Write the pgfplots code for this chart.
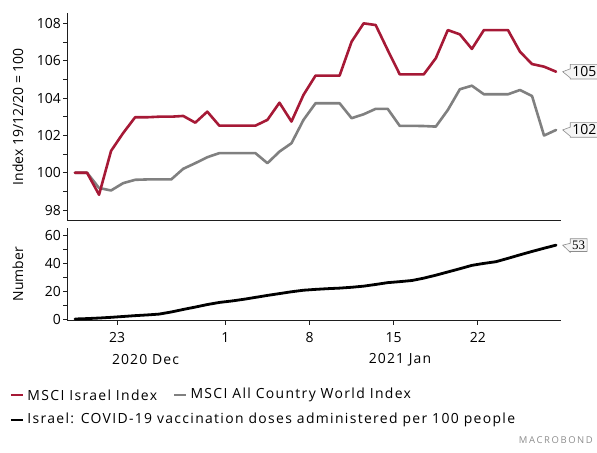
\documentclass[border=0pt]{standalone}
\usepackage{fontspec}
\setmainfont{Open Sans}
\newfontfamily\lsfont[LetterSpace=8]{Open Sans}
\newfontfamily\lgfont[LetterSpace=9.5]{Open Sans}
\newfontfamily\serifnum{Liberation Serif}
\usepackage{pgfplots}
\usepackage{pgfplotstable}
\pgfplotsset{compat=1.18}
\usetikzlibrary{shapes.callouts}

\definecolor{mbred}{RGB}{166,25,54}
\definecolor{mbgray}{RGB}{128,128,128}
\definecolor{axcol}{RGB}{30,30,30}

\pgfplotstableread{
k red gray
0 100.00 100.00
1 100.00 100.00
2 98.82 99.18
3 101.17 99.05
4 102.12 99.44
5 102.97 99.62
6 102.97 99.64
7 103.00 99.64
8 103.00 99.64
9 103.04 100.21
10 102.68 100.51
11 103.27 100.83
12 102.52 101.05
13 102.52 101.05
14 102.52 101.05
15 102.52 101.05
16 102.83 100.51
17 103.75 101.13
18 102.74 101.58
19 104.17 102.83
20 105.20 103.72
21 105.20 103.72
22 105.20 103.72
23 107.02 102.92
24 108.00 103.13
25 107.91 103.42
26 106.57 103.42
27 105.27 102.51
28 105.27 102.51
29 105.27 102.50
30 106.13 102.47
31 107.64 103.36
32 107.41 104.47
33 106.63 104.66
34 107.64 104.20
35 107.64 104.20
36 107.64 104.20
37 106.48 104.43
38 105.82 104.11
39 105.68 101.99
40 105.41 102.29
}\indextab

\pgfplotstableread{
k vac
0 0.2
1 0.5
2 0.9
3 1.4
4 2.0
5 2.6
6 3.1
7 3.7
8 5.2
9 7.0
10 8.7
11 10.5
12 12.0
13 13.0
14 14.2
15 15.6
16 17.0
17 18.3
18 19.6
19 20.7
20 21.3
21 21.8
22 22.2
23 22.8
24 23.6
25 24.8
26 26.1
27 26.8
28 27.6
29 29.3
30 31.4
31 33.7
32 36.0
33 38.4
34 39.8
35 41.0
36 43.4
37 45.9
38 48.3
39 50.6
40 52.8
}\vactab

\pgfplotsset{
  mbaxis/.style={
    scale only axis,
    anchor=south west,
    width=493.7bp,
    xmin=-0.64, xmax=40.41,
    axis x line*=bottom,
    axis y line*=left,
    axis line style={axcol, line width=1.3bp},
    tick align=outside,
    major tick length=4bp,
    minor tick length=4bp,
    every tick/.style={axcol, line width=0.8bp},
    tick label style={font=\fontsize{14}{17}\selectfont, text=black},
    yticklabel style={xshift=1bp},
    xticklabel style={yshift=-4bp},
    /pgf/number format/assume math mode=true,
    clip=false,
  },
}
\tikzset{
  callbox/.style={rectangle callout, draw=black!45, fill=black!4, line width=0.6bp,
    inner sep=2.2bp, callout pointer width=9bp, anchor=west, text=black,
    font=\fontsize{14}{17}\selectfont},
}

\begin{document}
\begin{tikzpicture}[x=1bp,y=1bp]
\useasboundingbox (-67.3bp,-132.3bp) rectangle (529.7bp,320.7bp);

% bottom panel
\begin{axis}[mbaxis,
  name=bot,
  at={(0bp,0bp)},
  height=92.7bp,
  ymin=-1, ymax=65,
  ytick={0,20,40,60},
  minor ytick={10,30,50},
  xtick={3.5,12.5,19.5,26.5,33.5},
  xticklabels={23,1,8,15,22},
  ylabel={Number},
  ylabel style={at={(axis description cs:-0.0999,0.5)}, anchor=center,
    font=\fontsize{14}{17}\selectfont},
]
\addplot[black, line width=2.8bp, line join=round, line cap=round] table[x=k,y=vac] {\vactab};
\node[callbox, font=\serifnum\fontsize{13}{15}\selectfont, inner sep=2bp,
  callout absolute pointer={(axis cs:40.55,52.8)}] at (axis cs:41.15,52.8) {53};
\end{axis}

% top panel
\begin{axis}[mbaxis,
  at={(0bp,100bp)},
  height=208bp,
  ymin=97.43, ymax=108.57,
  xtick=\empty,
  ytick={98,100,...,108},
  minor ytick={97,99,...,107},
  ylabel={Index 19/12/20 = 100},
  ylabel style={at={(axis description cs:-0.0999,0.5)}, anchor=center,
    font=\fontsize{14}{17}\selectfont},
]
\addplot[mbgray, line width=2.6bp, line join=round, line cap=round] table[x=k,y=gray] {\indextab};
\addplot[mbred, line width=2.6bp, line join=round, line cap=round] table[x=k,y=red] {\indextab};
\node[callbox, callout absolute pointer={(axis cs:40.55,105.41)}] at (axis cs:41.15,105.41) {105};
\node[callbox, callout absolute pointer={(axis cs:40.55,102.29)}] at (axis cs:41.15,102.29) {102};
\end{axis}

% period labels
\node[font=\lsfont\fontsize{14}{17}\selectfont] at (78.2bp,-39.3bp) {2020 Dec};
\node[font=\lsfont\fontsize{14}{17}\selectfont] at (332.7bp,-39.3bp) {2021 Jan};

% legend
\begin{scope}[font=\lgfont\fontsize{14}{17}\selectfont]
\draw[mbred, line width=2.8bp] (-56.3bp,-74.3bp) -- (-44.6bp,-74.3bp);
\node[anchor=west, inner sep=0] at (-40bp,-74.3bp) {MSCI Israel Index};
\draw[mbgray, line width=2.8bp] (106.7bp,-74.3bp) -- (118.4bp,-74.3bp);
\node[anchor=west, inner sep=0] at (123bp,-74.3bp) {MSCI All Country World Index};
\draw[black, line width=2.8bp] (-56.3bp,-99.3bp) -- (-44.6bp,-99.3bp);
\node[anchor=west, inner sep=0] at (-40bp,-99.3bp) {Israel: COVID-19 vaccination doses administered per 100 people};
\end{scope}

\node[anchor=east, inner sep=0, text=black!45, font=\fontsize{9.5}{11}\selectfont] at (525.7bp,-119.3bp) {M\,A\,C\,R\,O\,B\,O\,N\,D};
\end{tikzpicture}
\end{document}
